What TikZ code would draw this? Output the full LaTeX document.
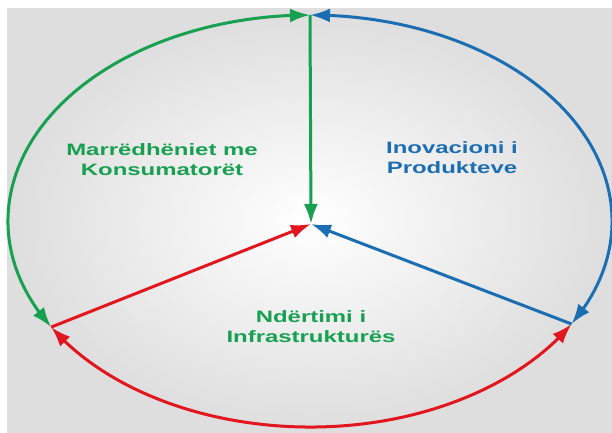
\documentclass[tikz,border=0pt]{standalone}
\usepackage{fontspec}
\setmainfont{Liberation Sans}
\newfontfamily\lblfont[FakeStretch=1.45]{Liberation Sans}
\usetikzlibrary{arrows.meta,bending,calc}
\definecolor{kgreen}{RGB}{22,160,80}
\definecolor{kblue}{RGB}{28,110,178}
\definecolor{kred}{RGB}{226,22,30}
\tikzset{
	tip/.tip={Latex[length=20pt,width=14pt]},
	cycle/.style={line width=3pt},
	spoke/.style={line width=3pt,-tip},
	lbl/.style={font=\lblfont\bfseries\fontsize{16.5}{20}\selectfont,align=center}
}
\begin{document}
\begin{tikzpicture}[x=1pt,y=1pt]
\useasboundingbox (0,0) rectangle (612,432);
%background
\shade[inner color=white,outer color=black!13,shading=radial] (7,0) rectangle (612,423);
%points of the cycle
\coordinate (top) at (310,417);
\coordinate (hub) at (311,208);
\coordinate (left) at ($(310,211)+(211:302 and 206)$);
\coordinate (right) at ($(310,211)+(330:302 and 206)$);
%arcs
\draw[cycle,kgreen,tip-tip] (left) arc[start angle=211,end angle=90,x radius=302,y radius=206];
\draw[cycle,kblue,tip-tip] (right) arc[start angle=-30,end angle=90,x radius=302,y radius=206];
\draw[cycle,kred,tip-tip] (left) arc[start angle=211,end angle=330,x radius=302,y radius=206];
%spokes
\draw[spoke,kgreen] (top) -- (hub);
\draw[spoke,kred] (left) -- (hub);
\draw[spoke,kblue] (right) -- (hub);
%labels
\node[lbl,text=kgreen] (relations) at (162,272) {Marrëdhëniet me\\Konsumatorët};
\node[lbl,text=kblue] (innovation) at (452,274) {Inovacioni i\\Produkteve};
\node[lbl,text=kgreen] (infra) at (311,105) {Ndërtimi i\\Infrastrukturës};
\end{tikzpicture}
\end{document}
